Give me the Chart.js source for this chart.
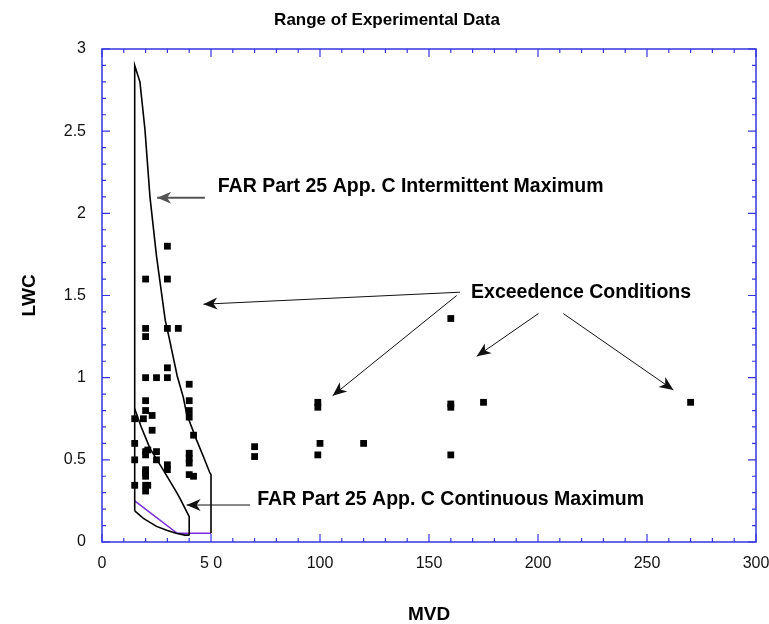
<!DOCTYPE html>
<html>
<head>
<meta charset="utf-8">
<script src="https://cdn.jsdelivr.net/npm/chart.js@4.4.1/dist/chart.umd.min.js"></script>
<style>
  body { margin: 0; background: #fff; }
  canvas { display: block; }
</style>
</head>
<body>
<canvas id="rangeChart" width="769" height="624"></canvas>
<script>
// measured points (MVD, LWC)
var pointMvd = [15, 15, 15, 15, 19,
  20, 20, 20, 20, 20, 20, 20, 20, 20, 20, 20, 20, 20,
  21, 21, 23, 23, 25, 25, 25,
  30, 30, 30, 30, 30, 30, 30, 35,
  40, 40, 40, 40, 40, 40, 40, 40, 42, 42,
  70, 70, 99, 99, 99, 100, 120, 160, 160, 160, 160, 175, 270];
var pointLwc = [0.75, 0.60, 0.50, 0.345, 0.75,
  1.60, 1.30, 1.25, 1.00, 0.86, 0.80, 0.55, 0.53, 0.44, 0.42, 0.40, 0.345, 0.31,
  0.56, 0.345, 0.77, 0.68, 1.00, 0.55, 0.50,
  1.80, 1.60, 1.30, 1.06, 1.00, 0.47, 0.44, 1.30,
  0.96, 0.86, 0.80, 0.76, 0.54, 0.51, 0.48, 0.41, 0.65, 0.40,
  0.58, 0.52, 0.85, 0.82, 0.53, 0.60, 0.60, 1.36, 0.84, 0.82, 0.53, 0.85, 0.85];

// FAR Part 25 App. C envelopes
var intermittentMvd = [15, 15, 17.4, 19.7, 22, 25, 29, 31, 34.5, 37.3, 38.8, 43.4, 46.5, 49.5, 50, 50];
var intermittentLwc = [0.19, 2.9, 2.8, 2.51, 2.1, 1.74, 1.35, 1.23, 1.01, 0.88, 0.78, 0.62, 0.52, 0.42, 0.41, 0.053];
var continuousMvd = [15, 18, 22, 28, 34.3, 36, 39.6, 40, 40];
var continuousLwc = [0.81, 0.70, 0.57, 0.44, 0.30, 0.26, 0.165, 0.155, 0.04];
var lowerMvd = [15, 19, 25, 30, 34, 38, 40];
var lowerLwc = [0.19, 0.144, 0.095, 0.07, 0.053, 0.042, 0.042];
var purpleMvd = [15, 34.5, 50];
var purpleLwc = [0.25, 0.053, 0.053];

var xTicks = [0, 50, 100, 150, 200, 250, 300];
var yTicks = [0, 0.5, 1, 1.5, 2, 2.5, 3];

// callouts: text anchor in data units, arrows [fromX, fromY, toX, toY]
var noteTexts = ['FAR Part 25 App. C Intermittent Maximum', 'Exceedence Conditions', 'FAR Part 25 App. C Continuous Maximum'];
var noteX = [53.1, 169.3, 71.2];
var noteY = [2.16, 1.52, 0.26];
var arrows = [
  [47.2, 2.095, 25.3, 2.095],
  [164.2, 1.52, 46.5, 1.447],
  [162.7, 1.50, 105.8, 0.89],
  [200.2, 1.39, 171.9, 1.13],
  [211.6, 1.39, 262.1, 0.925],
  [67.9, 0.225, 38.8, 0.225]
];

function pairs(xs, ys) {
  return xs.map(function(v, i) { return { x: v, y: ys[i] }; });
}

function lineSet(xs, ys, color) {
  return {
    type: 'line', data: pairs(xs, ys), borderColor: color, borderWidth: 1.6,
    pointRadius: 0, fill: false, tension: 0
  };
}

function arrowHead(ctx, x0, y0, x1, y1) {
  var a = Math.atan2(y1 - y0, x1 - x0);
  var len = 14, wid = 6, back = 10;
  ctx.beginPath();
  ctx.moveTo(x1, y1);
  ctx.lineTo(x1 - len * Math.cos(a) + wid * Math.sin(a), y1 - len * Math.sin(a) - wid * Math.cos(a));
  ctx.lineTo(x1 - back * Math.cos(a), y1 - back * Math.sin(a));
  ctx.lineTo(x1 - len * Math.cos(a) - wid * Math.sin(a), y1 - len * Math.sin(a) + wid * Math.cos(a));
  ctx.closePath();
  ctx.fill();
}

var framePlugin = {
  id: 'frame',
  afterDatasetsDraw: function(chart) {
    var ctx = chart.ctx, a = chart.chartArea;
    var xs = chart.scales.x, ys = chart.scales.y;
    ctx.save();
    ctx.strokeStyle = '#3535e0';
    ctx.lineWidth = 1.5;
    ctx.strokeRect(a.left, a.top, a.right - a.left, a.bottom - a.top);
    ctx.lineWidth = 1.2;
    ctx.beginPath();
    for (var v = 0; v <= 300; v += 10) {
      var px = xs.getPixelForValue(v);
      var len = (v % 50 === 0) ? 8 : 4;
      ctx.moveTo(px, a.bottom); ctx.lineTo(px, a.bottom - len);
      ctx.moveTo(px, a.top); ctx.lineTo(px, a.top + len);
    }
    for (var k = 0; k <= 30; k++) {
      var py = ys.getPixelForValue(k / 10);
      var l2 = (k % 5 === 0) ? 8 : 4;
      ctx.moveTo(a.left, py); ctx.lineTo(a.left + l2, py);
      ctx.moveTo(a.right, py); ctx.lineTo(a.right - l2, py);
    }
    ctx.stroke();

    // callout arrows
    arrows.forEach(function(r, i) {
      var x0 = xs.getPixelForValue(r[0]), y0 = ys.getPixelForValue(r[1]);
      var x1 = xs.getPixelForValue(r[2]), y1 = ys.getPixelForValue(r[3]);
      var col = i === 0 ? '#555' : '#111';
      ctx.strokeStyle = col; ctx.fillStyle = col;
      ctx.lineWidth = i === 0 ? 2 : 1;
      ctx.beginPath(); ctx.moveTo(x0, y0); ctx.lineTo(x1, y1); ctx.stroke();
      arrowHead(ctx, x0, y0, x1, y1);
    });

    ctx.fillStyle = '#000';
    ctx.font = 'bold 19.5px "Liberation Sans", Arial, sans-serif';
    ctx.textAlign = 'left';
    ctx.textBaseline = 'middle';
    noteTexts.forEach(function(t, i) {
      ctx.fillText(t, xs.getPixelForValue(noteX[i]), ys.getPixelForValue(noteY[i]));
    });
    ctx.restore();
  }
};

var ctx = document.getElementById('rangeChart').getContext('2d');
var chart = new Chart(ctx, {
  type: 'scatter',
  data: {
    datasets: [
      lineSet(intermittentMvd, intermittentLwc, '#000'),
      lineSet(continuousMvd, continuousLwc, '#000'),
      lineSet(lowerMvd, lowerLwc, '#000'),
      lineSet(purpleMvd, purpleLwc, '#7b2fd8'),
      {
        type: 'scatter', data: pairs(pointMvd, pointLwc), pointStyle: 'rect',
        pointRadius: 4.8, backgroundColor: '#000', borderWidth: 0
      }
    ]
  },
  options: {
    responsive: false,
    animation: false,
    layout: { padding: { left: 18, right: 13, top: 0, bottom: 0 } },
    plugins: {
      legend: { display: false },
      tooltip: { enabled: false },
      title: {
        display: true,
        text: 'Range of Experimental Data',
        color: '#000',
        font: { family: '"Liberation Sans Narrow", "Liberation Sans", Arial, sans-serif', size: 17, weight: 'bold', lineHeight: 1.2 },
        padding: { top: 10, bottom: 18.6 }
      }
    },
    scales: {
      x: {
        type: 'linear', min: 0, max: 300,
        afterBuildTicks: function(s) { s.ticks = xTicks.map(function(v) { return { value: v }; }); },
        afterFit: function(s) { s.height = 82; s.paddingLeft = 0; s.paddingRight = 0; },
        grid: { display: false, drawTicks: false },
        border: { display: false },
        ticks: {
          padding: 12, color: '#111', maxRotation: 0,
          font: { family: '"Liberation Sans", Arial, sans-serif', size: 16 },
          callback: function(v) { return v === 50 ? '5 0' : String(v); }
        },
        title: {
          display: true, text: 'MVD', color: '#000', padding: 0,
          font: { family: '"Liberation Sans", Arial, sans-serif', size: 19, weight: 'bold', lineHeight: 1 }
        }
      },
      y: {
        type: 'linear', min: 0, max: 3,
        afterBuildTicks: function(s) { s.ticks = yTicks.map(function(v) { return { value: v }; }); },
        afterFit: function(s) { s.width = 84; s.paddingTop = 0; s.paddingBottom = 0; },
        grid: { display: false, drawTicks: false },
        border: { display: false },
        ticks: {
          padding: 16, color: '#111',
          font: { family: '"Liberation Sans", Arial, sans-serif', size: 16 },
          callback: function(v) { return String(v); }
        },
        title: {
          display: true, text: 'LWC', color: '#000', padding: 0,
          font: { family: '"Liberation Sans", Arial, sans-serif', size: 19, weight: 'bold', lineHeight: 1.2 }
        }
      }
    }
  },
  plugins: [framePlugin]
});
</script>
</body>
</html>
